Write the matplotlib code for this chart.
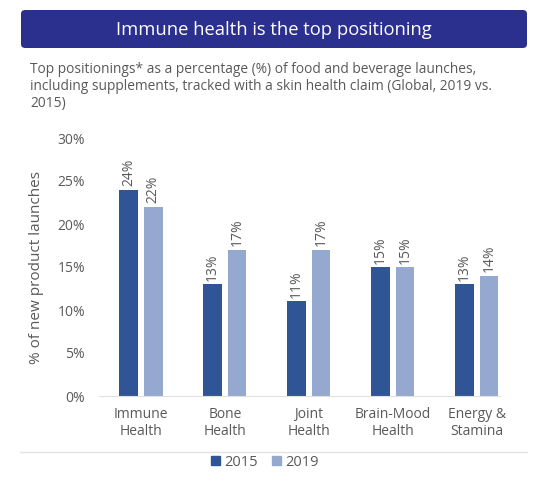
import numpy as np
import matplotlib.pyplot as plt
from matplotlib.patches import FancyBboxPatch, Rectangle
from matplotlib.lines import Line2D

categorias = ['Immune\nHealth', 'Bone\nHealth', 'Joint\nHealth', 'Brain-Mood\nHealth', 'Energy &\nStamina']
valores_2015 = [24, 13, 11, 15, 13]
valores_2019 = [22, 17, 17, 15, 14]
ticks_y = [0, 5, 10, 15, 20, 25, 30]

color_2015 = '#2F5597'
color_2019 = '#95A9D0'
gris = '#595959'

plt.rcParams['font.family'] = ['Open Sans', 'DejaVu Sans']

fig = plt.figure(figsize=(5.43, 4.83), dpi=100)

# Banner del titulo
banner = FancyBboxPatch((21 / 543, 1 - 48 / 483), 506 / 543, 38 / 483,
                        boxstyle='round,pad=0,rounding_size=0.008',
                        transform=fig.transFigure, facecolor='#2B2F8E',
                        edgecolor='none')
fig.patches.append(banner)
fig.text(274 / 543, 1 - 30 / 483, 'Immune health is the top positioning',
         ha='center', va='center', color='white', fontsize=13.2)

fig.text(30 / 543, 1 - 62 / 483,
         'Top positionings* as a percentage (%) of food and beverage launches,\n'
         'including supplements, tracked with a skin health claim (Global, 2019 vs.\n'
         '2015)',
         ha='left', va='top', color=gris, fontsize=9.95, linespacing=1.2)

# Ejes: 0% en y=396, 30% en y=138; centro de categorias cada 84 px
ax = fig.add_axes([99 / 543, 1 - 396 / 483, 401 / 543, 258 / 483])
x = np.arange(len(categorias))
ancho = 0.22
b1 = ax.bar(x - 0.146, valores_2015, ancho, color=color_2015)
b2 = ax.bar(x + 0.146, valores_2019, ancho, color=color_2019)

for barras, vals in [(b1, valores_2015), (b2, valores_2019)]:
    for b, v in zip(barras, vals):
        ax.text(b.get_x() + b.get_width() / 2, v + 0.4, f'{v}%',
                ha='center', va='bottom', rotation=90, color=gris, fontsize=10)

ax.set_xlim(-0.5, 4.274)
ax.set_ylim(0, 30)
ax.set_yticks(ticks_y)
ax.set_yticklabels([f'{t}%' for t in ticks_y], color=gris, fontsize=10)
ax.set_xticks(x)
ax.set_xticklabels(categorias, color=gris, fontsize=10, linespacing=1.15)
ax.tick_params(length=0)
ax.tick_params(axis='y', pad=10)
ax.tick_params(axis='x', pad=8)
for s in ['top', 'right', 'left']:
    ax.spines[s].set_visible(False)
ax.spines['bottom'].set_color('#E0E0E0')
ax.set_ylabel('% of new product launches', color=gris, fontsize=11, labelpad=10)

handles = [Rectangle((0, 0), 1, 1, color=color_2015),
           Rectangle((0, 0), 1, 1, color=color_2019)]
fig.legend(handles, ['2015', '2019'], loc='center', bbox_to_anchor=(265 / 543, 1 - 462 / 483),
           ncol=2, frameon=False, fontsize=10.5, handlelength=0.6, handleheight=0.6,
           handletextpad=0.3, columnspacing=1.0, labelcolor=gris)

fig.add_artist(Line2D([20 / 543, 527 / 543], [1 - 452 / 483, 1 - 452 / 483],
                      transform=fig.transFigure, color='#E3E3E3', lw=1))

fig.savefig('out.png', dpi=100)
